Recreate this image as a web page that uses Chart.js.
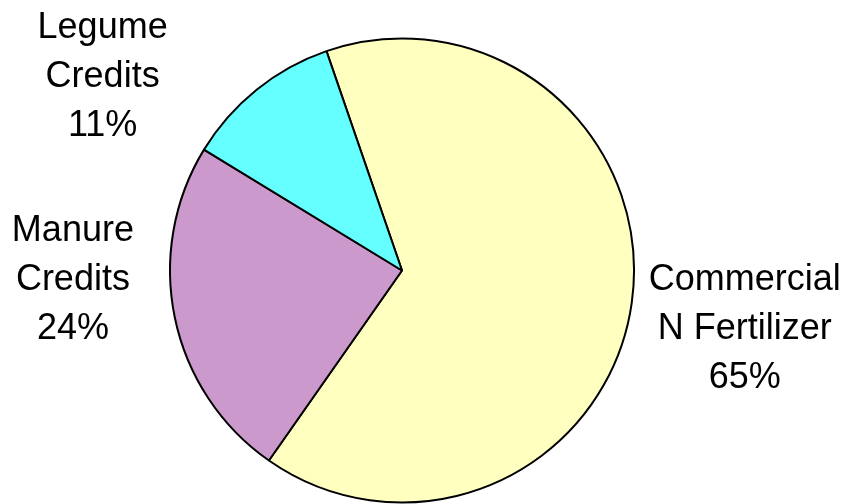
<!DOCTYPE html>
<html>
<head>
<meta charset="utf-8">
<script src="https://cdn.jsdelivr.net/npm/chart.js@4"></script>
<style>
  html, body { margin: 0; padding: 0; background: #ffffff; }
  #wrap { width: 848px; height: 504px; }
</style>
</head>
<body>
<div id="wrap"><canvas id="c" width="848" height="504"></canvas></div>
<script>
// Nitrogen sources, share of total (%)
const categories = ['Commercial N Fertilizer', 'Manure Credits', 'Legume Credits'];
const labelLines = [['Commercial', 'N Fertilizer'], ['Manure', 'Credits'], ['Legume', 'Credits']];
const shares = [65, 24, 11];

// Slice fills
const sliceColors = ['#FFFFC0', '#CC99CC', '#66FFFF'];

// Label placement relative to the slice's outer edge at its mid angle (px)
const labelOffsets = [[113, 36], [-102, -28], [-154, -3]];

const FONT = '36px "Liberation Sans", Arial, sans-serif';
const LINE_H = 49;

const outsideLabels = {
  id: 'outsideLabels',
  afterDatasetsDraw(chart) {
    const ctx = chart.ctx;
    const meta = chart.getDatasetMeta(0);
    ctx.save();
    ctx.font = FONT;
    ctx.fillStyle = '#000000';
    ctx.textAlign = 'center';
    ctx.textBaseline = 'alphabetic';
    meta.data.forEach((arc, i) => {
      const p = arc.getProps(['x', 'y', 'startAngle', 'endAngle', 'outerRadius'], true);
      const mid = (p.startAngle + p.endAngle) / 2;
      const ex = p.x + Math.cos(mid) * p.outerRadius;
      const ey = p.y + Math.sin(mid) * p.outerRadius;
      const cx = ex + labelOffsets[i][0];
      const cy = ey + labelOffsets[i][1];
      const lines = labelLines[i].concat([shares[i] + '%']);
      // middle line sits on the anchor baseline
      lines.forEach((t, k) => {
        ctx.fillText(t, cx, cy + (k - 1) * LINE_H);
      });
    });
    ctx.restore();
  }
};

new Chart(document.getElementById('c'), {
  type: 'pie',
  data: {
    labels: categories,
    datasets: [{
      data: shares,
      backgroundColor: sliceColors,
      borderColor: '#000000',
      borderWidth: 2,
      hoverBorderWidth: 2,
      clip: false
    }]
  },
  options: {
    responsive: false,
    animation: false,
    events: [],
    rotation: -19,
    radius: 232,
    layout: { padding: { top: 37, right: 44, bottom: 0, left: 0 } },
    plugins: {
      legend: { display: false },
      title: { display: false },
      tooltip: { enabled: false }
    }
  },
  plugins: [outsideLabels]
});
</script>
</body>
</html>
